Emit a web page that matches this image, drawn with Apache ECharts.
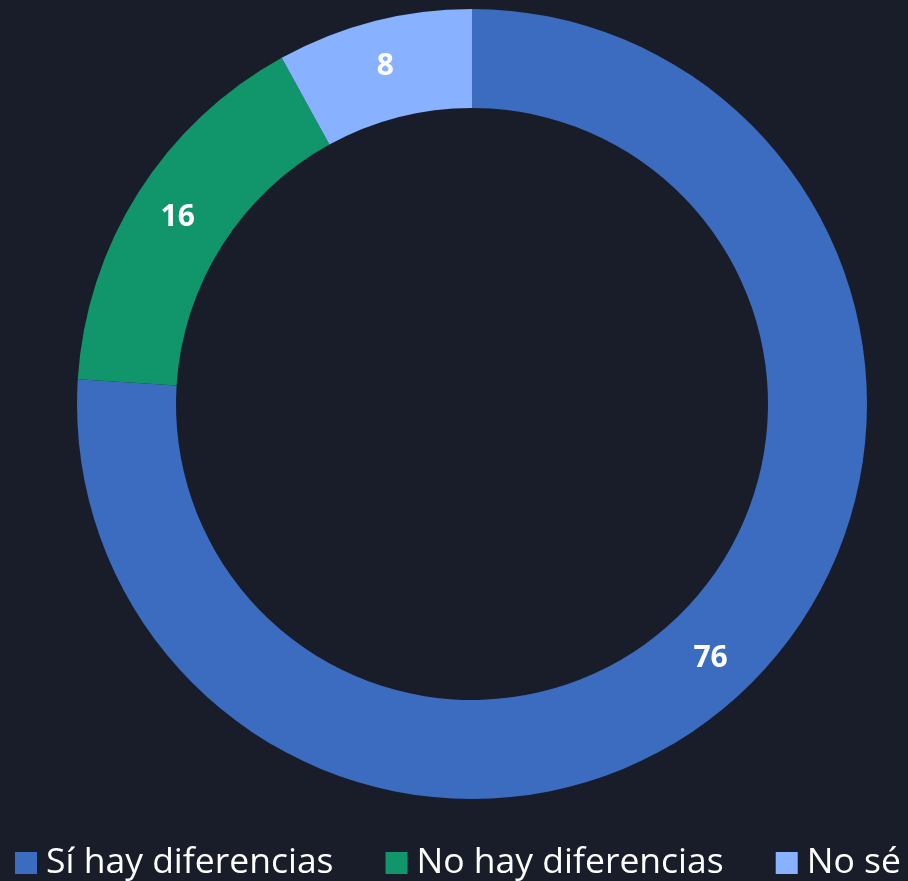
<!DOCTYPE html>
<html>
<head>
<meta charset="utf-8">
<script src="https://cdn.jsdelivr.net/npm/echarts@6/dist/echarts.min.js"></script>
<style>
html,body{margin:0;padding:0;background:#181D29;}
#c{width:908px;height:881px;}
</style>
</head>
<body>
<div id="c"></div>
<script>
const categories = ['Sí hay diferencias', 'No hay diferencias', 'No sé'];
const values = [76, 16, 8];
const colors = ['#3C6CC0', '#11956B', '#88B1FF'];

const chart = echarts.init(document.getElementById('c'), null, {renderer: 'canvas'});
chart.setOption({
  backgroundColor: '#181D29',
  animation: false,
  legend: {
    data: categories,
    left: 10,
    top: 840,
    itemWidth: 22,
    itemHeight: 22,
    itemGap: 52,
    icon: 'rect',
    textStyle: {color: '#FFFFFF', fontSize: 35.5, fontFamily: "'Open Sans', sans-serif", padding: [0,0,0,4]}
  },
  series: [{
    type: 'pie',
    center: [472, 404],
    radius: [296, 395],
    startAngle: 90,
    clockwise: true,
    label: {
      show: true,
      position: 'inside',
      color: '#FFFFFF',
      fontSize: 30,
      fontWeight: 'bold',
      fontFamily: "'Open Sans', sans-serif",
      formatter: '{c}'
    },
    labelLine: {show: false},
    itemStyle: {borderWidth: 0},
    data: categories.map((n, i) => ({name: n, value: values[i], itemStyle: {color: colors[i]}}))
  }]
});
</script>
</body>
</html>
